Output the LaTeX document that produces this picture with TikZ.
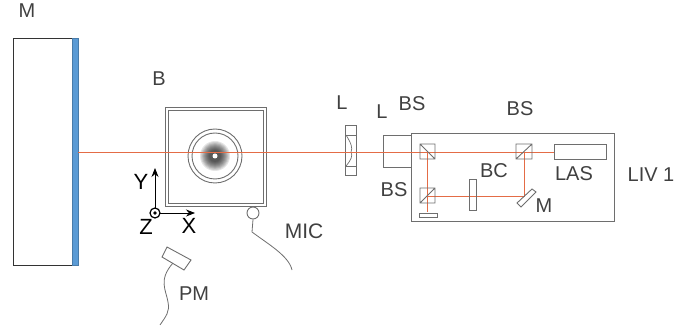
\documentclass[tikz,border=0pt]{standalone}
\usepackage{fontspec}
\setmainfont{Liberation Sans}
\usetikzlibrary{arrows.meta}
\definecolor{beam}{HTML}{E46C46}
\definecolor{bar}{HTML}{5B9BD5}
\definecolor{ink}{HTML}{404040}
\definecolor{part}{HTML}{6E6E6E}
\tikzset{
 lab/.style={font=\fontsize{20}{20}\selectfont,text=ink,inner sep=0pt},
 axlab/.style={font=\fontsize{22}{22}\selectfont,text=black,inner sep=0pt},
 part box/.style={draw=part,line width=0.9pt},
 ray/.style={draw=beam,line width=0.9pt},
 axis/.style={draw=black,line width=0.8pt,-{Stealth[length=9pt,width=7pt]}},
 wire/.style={draw=part,line width=0.8pt},
}
\begin{document}
\begin{tikzpicture}[x=1pt,y=-1pt]
\useasboundingbox (0,0) rectangle (676,328);
% wall
\draw[draw=black!80,line width=0.9pt,fill=white] (13,38) rectangle (72,265);
\draw[draw=bar!80!black,fill=bar,line width=0.5pt] (72,38) rectangle (78,265);
% chamber B
\draw[part box] (165,107) rectangle (266,206);
\draw[part box] (168,110) rectangle (263,203);
\foreach \r in {15,14,13,12,11,10,9,8,7,6}{\fill[black,opacity=0.1] (215,156) circle (\r);}
\fill[white] (215,156) circle (2.5);
\draw[part box] (215,156) circle (27);
\draw[part box] (215,156) circle (23);
% lens
\draw[part box] (345,125) rectangle (356,175);
\draw[part box] (345,135) -- (356,135);
\draw[part box] (345,166) -- (356,166);
\draw[draw=part,line width=0.7pt] (346,135) .. controls (351,143) and (353,148) .. (351,152) .. controls (353,156) and (351,160) .. (346,166);
% LIV box and L block
\draw[part box] (411,133) rectangle (614,221);
\draw[part box] (411,135) -- (383,135) -- (383,167) -- (411,167);
% optics
\coordinate (bs1) at (427.5,152);
\coordinate (bs2) at (524,152);
\coordinate (bs3) at (427.5,196);
\coordinate (mir) at (524,196);
\coordinate (det) at (427.5,212);
\coordinate (wallhit) at (78,152);
\node[part box,minimum width=52pt,minimum height=15pt,inner sep=0pt] (las) at (580,152) {};
\draw[ray] (wallhit) -- (las.west);
\draw[ray] (bs1) -- (det);
\draw[ray] (bs3) -- (mir) -- (bs2);
\draw[part box] (420,144) rectangle (435,159) (420,144) -- (435,159);
\draw[part box] (516,144) rectangle (532,159) (516,159) -- (532,144);
\draw[part box] (420,188) rectangle (435,203) (420,203) -- (435,188);
\draw[part box] (419,213) rectangle (437,217);
\draw[part box] (469,179) rectangle (476,210);
\draw[part box] (517,203) -- (521,207) -- (536,192) -- (532,189) -- cycle;
% axes
\coordinate (o) at (155,213);
\coordinate (yend) at (155,168);
\coordinate (xend) at (195,213);
\draw[axis] (o) -- (yend);
\draw[axis] (o) -- (xend);
\draw[line width=1.2pt,fill=white] (o) circle (5);
\fill (o) circle (1.8);
% microphone
\node[draw=part,line width=0.9pt,circle,minimum size=12pt,inner sep=0pt] (mic) at (253,213) {};
\coordinate (micend) at (292,270);
\draw[wire] (mic.south) -- (252,232) .. controls (268,244) and (289,256) .. (micend);
% PM
\draw[part box] (167,247) -- (162,257) -- (184,270) -- (191,260) -- cycle;
\coordinate (pmend) at (160,325);
\draw[wire] (173,263) .. controls (158,280) and (166,290) .. (168,302) .. controls (170,312) and (166,316) .. (pmend);
% labels
\node[lab] (tM) at (27,11) {M};
\node[lab] (tB) at (159,79) {B};
\node[lab] (tL1) at (342,103) {L};
\node[lab] (tL2) at (382,112) {L};
\node[lab] (tBS1) at (412,104) {BS};
\node[lab] (tBS2) at (520,109) {BS};
\node[lab] (tBS3) at (394,190) {BS};
\node[lab] (tBC) at (494,171) {BC};
\node[lab] (tLAS) at (574,174) {LAS};
\node[lab] (tM2) at (544,206) {M};
\node[lab] (tLIV) at (651,175) {LIV 1};
\node[lab,font=\fontsize{21}{21}\selectfont] (tMIC) at (304,231) {MIC};
\node[lab] (tPM) at (194,294) {PM};
\node[axlab] (tY) at (141,182) {Y};
\node[axlab] (tX) at (189,226) {X};
\node[axlab] (tZ) at (146,227) {Z};
\end{tikzpicture}
\end{document}
